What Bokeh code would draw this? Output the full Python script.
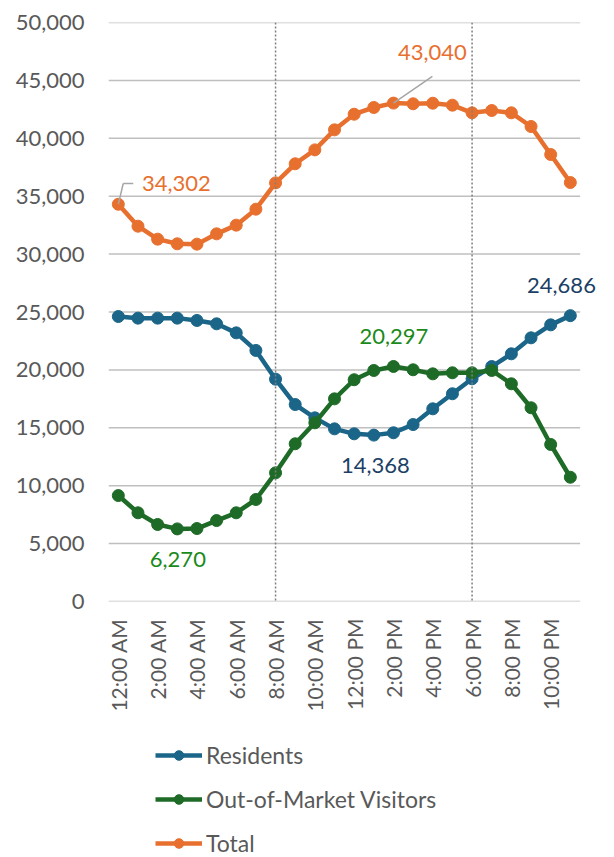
import math
from bokeh.plotting import figure
from bokeh.layouts import column
from bokeh.models import (Range1d, FixedTicker, Span, Legend, LegendItem, ColumnDataSource,
                          Label, NumeralTickFormatter)
from bokeh.embed import file_html
from bokeh.resources import INLINE

hours = ["12:00 AM", "1:00 AM", "2:00 AM", "3:00 AM", "4:00 AM", "5:00 AM", "6:00 AM", "7:00 AM",
         "8:00 AM", "9:00 AM", "10:00 AM", "11:00 AM", "12:00 PM", "1:00 PM", "2:00 PM", "3:00 PM",
         "4:00 PM", "5:00 PM", "6:00 PM", "7:00 PM", "8:00 PM", "9:00 PM", "10:00 PM", "11:00 PM"]

residents = [24610, 24470, 24470, 24470, 24270, 23980, 23200, 21680, 19200, 17010, 15860, 14910,
             14480, 14368, 14570, 15280, 16640, 17940, 19230, 20290, 21390, 22770, 23890, 24686]
visitors = [9150, 7660, 6650, 6270, 6300, 6990, 7660, 8810, 11110, 13620, 15430, 17500,
            19150, 19950, 20297, 20010, 19660, 19750, 19750, 19950, 18800, 16730, 13560, 10730]
total = [34302, 32410, 31290, 30890, 30860, 31750, 32500, 33880, 36150, 37800, 39000, 40730,
         42080, 42660, 43040, 42980, 43030, 42860, 42200, 42400, 42200, 41020, 38600, 36180]

series_names = ["Residents", "Out-of-Market Visitors", "Total"]
tick_hours = [0, 2, 4, 6, 8, 10, 12, 14, 16, 18, 20, 22]
y_ticks = [0, 5000, 10000, 15000, 20000, 25000, 30000, 35000, 40000, 45000, 50000]
marker_hours = [8, 18]

FONT = "Lato"
GREY = "#595959"
C_RES = "#1B6589"
C_VIS = "#1E6B27"
C_TOT = "#E8702F"
C_RES_LBL = "#1C3F66"
C_VIS_LBL = "#1A8A1A"
colors = [C_RES, C_VIS, C_TOT]

x = list(range(len(hours)))
x_lo, x_hi = -0.5, len(hours) - 0.5
series = (residents, visitors, total)

p = figure(frame_width=498, frame_height=579, output_backend="svg", toolbar_location=None,
           x_range=Range1d(x_lo, 24.84), y_range=Range1d(0, 50000),
           min_border_left=108, min_border_top=22, min_border_right=8, min_border_bottom=139)
p.outline_line_color = None
p.background_fill_color = "white"
p.border_fill_color = "white"

# axes
p.xaxis.ticker = FixedTicker(ticks=tick_hours)
p.xaxis.major_label_overrides = {h: hours[h] for h in tick_hours}
p.xaxis.major_label_orientation = math.pi / 2
p.yaxis.ticker = FixedTicker(ticks=y_ticks)
p.yaxis.formatter = NumeralTickFormatter(format="0,0")
for ax in (p.xaxis, p.yaxis):
    ax.axis_line_color = None
    ax.major_tick_line_color = None
    ax.minor_tick_line_color = None
    ax.major_tick_out = 0
    ax.major_tick_in = 0
    ax.minor_tick_out = 0
    ax.major_label_text_font = FONT
    ax.major_label_text_color = GREY
p.xaxis.major_label_text_font_size = "21px"
p.yaxis.major_label_text_font_size = "22px"
p.yaxis.major_label_standoff = 24
p.xaxis.major_label_standoff = 17

p.xgrid.grid_line_color = None
p.ygrid.grid_line_color = None

# horizontal gridlines across the category span
grid = ColumnDataSource(dict(x0=[x_lo] * len(y_ticks), x1=[x_hi] * len(y_ticks),
                             y=y_ticks))
p.segment("x0", "y", "x1", "y", source=grid, line_color="#BFBFBF", line_width=1.5)

for h in marker_hours:
    p.add_layout(Span(location=h, dimension="height", line_color="#7F7F7F",
                      line_dash="2 2", line_width=1.5))

for ys, col in zip(series, colors):
    src = ColumnDataSource(dict(x=x, y=ys))
    p.line("x", "y", source=src, line_color=col, line_width=4.5)
    p.scatter("x", "y", source=src, size=12, fill_color=col, line_color=col)

# leader lines for total labels
lead = ColumnDataSource(dict(x0=[0, 0.25, 14], y0=[34302, 36100, 43040],
                             x1=[0.25, 0.76, 15.98], y1=[36100, 36100, 45340]))
p.segment("x0", "y0", "x1", "y1", source=lead, line_color="#A6A6A6", line_width=1.5)

def add_label(xv, yv, txt, col, align="center", baseline="middle"):
    p.add_layout(Label(x=xv, y=yv, text=txt, text_color=col, text_font=FONT,
                       text_font_size="22px", text_align=align, text_baseline=baseline))

add_label(1.2, 36100, "34,302", C_TOT, align="left")
add_label(15.98, 47400, "43,040", C_TOT)
add_label(22.55, 27290, "24,686", C_RES_LBL)
add_label(13.08, 11740, "14,368", C_RES_LBL)
add_label(14.02, 22880, "20,297", C_VIS_LBL)
add_label(3.03, 3600, "6,270", C_VIS_LBL)

# legend in its own strip below the chart (series drawn out of view; only legend glyphs show)
lg = figure(width=614, height=117, output_backend="svg", toolbar_location=None,
            x_axis_type=None, y_axis_type=None,
            x_range=Range1d(1000, 1001), y_range=Range1d(0, 1),
            min_border=0)
lg.outline_line_color = None
lg.grid.grid_line_color = None
items = []
for name, ys, col in zip(series_names, series, colors):
    src = ColumnDataSource(dict(x=x, y=ys))
    l = lg.line("x", "y", source=src, line_color=col, line_width=4.5)
    c = lg.scatter("x", "y", source=src, size=12, fill_color=col, line_color=col)
    items.append(LegendItem(label=name, renderers=[l, c]))
legend = Legend(items=items, orientation="vertical", location=(47, 0),
                label_text_font=FONT, label_text_font_size="23px", label_text_color=GREY,
                glyph_width=47, glyph_height=24, label_height=24, spacing=16, label_standoff=4,
                border_line_color=None, background_fill_alpha=0,
                padding=0, margin=0)
lg.add_layout(legend, "center")

layout = column(p, lg, spacing=0)
open("out.html", "w").write(file_html(layout, INLINE))
